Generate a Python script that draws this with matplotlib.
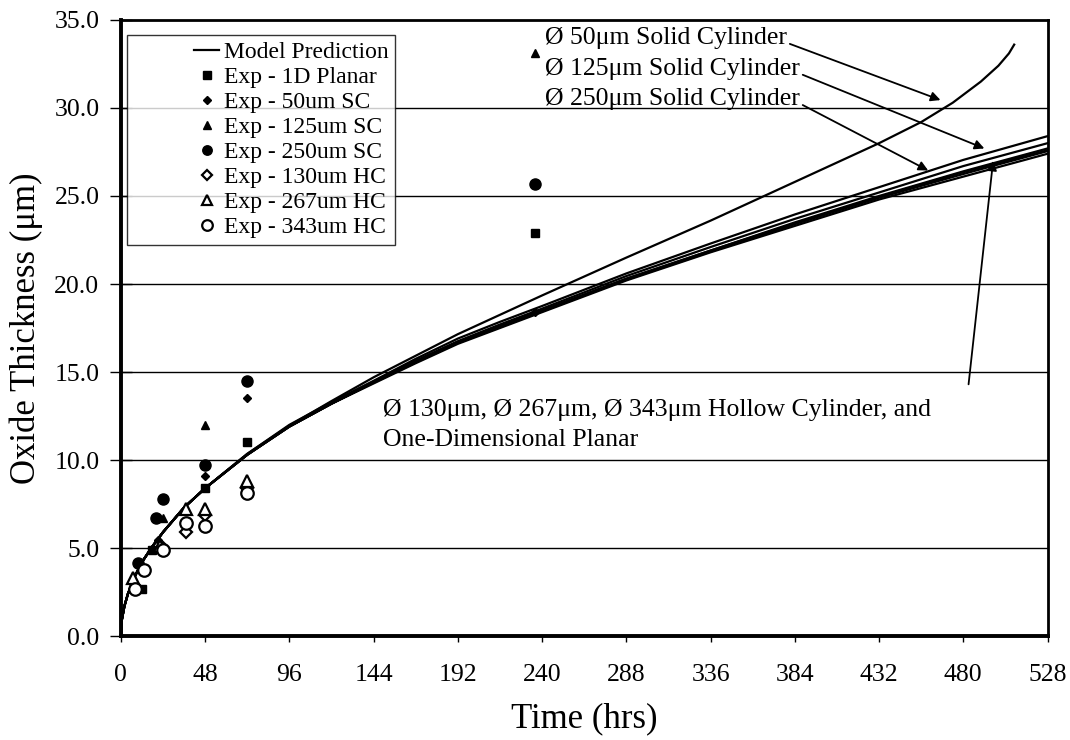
import matplotlib
matplotlib.use("Agg")
import matplotlib.pyplot as plt
from matplotlib.legend_handler import HandlerLine2D

plt.rcParams['font.family'] = ['Liberation Serif', 'DejaVu Serif']

# model time grid (hrs) and predicted oxide thickness (um)
t_model = [0, 0.5, 2, 4, 8, 12, 18, 24, 36, 48, 72, 96, 120, 144, 168, 192,
           216, 240, 288, 336, 384, 432, 480, 528]
planar_1d = [0, 0.9, 1.7, 2.4, 3.4, 4.2, 5.1, 5.9, 7.3, 8.4, 10.3, 11.9, 13.2,
             14.4, 15.6, 16.7, 17.6, 18.5, 20.3, 21.9, 23.5, 25.0, 26.4, 27.7]
hc_130 = [0, 0.9, 1.7, 2.4, 3.4, 4.2, 5.1, 5.9, 7.3, 8.4, 10.3, 11.9, 13.2,
          14.35, 15.5, 16.6, 17.5, 18.4, 20.2, 21.8, 23.3, 24.8, 26.1, 27.4]
hc_267 = [0, 0.9, 1.7, 2.4, 3.4, 4.2, 5.1, 5.9, 7.3, 8.4, 10.3, 11.9, 13.2,
          14.4, 15.55, 16.65, 17.55, 18.45, 20.25, 21.85, 23.4, 24.9, 26.25, 27.55]
hc_343 = [0, 0.9, 1.7, 2.4, 3.4, 4.2, 5.1, 5.9, 7.3, 8.4, 10.3, 11.9, 13.2,
          14.4, 15.6, 16.7, 17.6, 18.5, 20.3, 21.9, 23.45, 24.95, 26.35, 27.6]
sc_250 = [0, 0.9, 1.7, 2.4, 3.4, 4.2, 5.1, 5.9, 7.3, 8.4, 10.3, 11.95, 13.25,
          14.45, 15.65, 16.75, 17.7, 18.6, 20.45, 22.1, 23.7, 25.2, 26.7, 28.0]
sc_125 = [0, 0.9, 1.7, 2.4, 3.4, 4.2, 5.1, 5.9, 7.3, 8.4, 10.35, 12.0, 13.3,
          14.5, 15.75, 16.9, 17.85, 18.75, 20.6, 22.3, 23.95, 25.5, 27.05, 28.4]
t_sc50 = [0, 0.5, 2, 4, 8, 12, 18, 24, 36, 48, 72, 96, 120, 144, 192, 240,
          288, 336, 384, 432, 456, 474, 490, 500, 506, 509]
sc_50 = [0, 0.9, 1.7, 2.4, 3.4, 4.2, 5.1, 5.9, 7.3, 8.4, 10.35, 11.95, 13.35,
         14.7, 17.15, 19.35, 21.5, 23.6, 25.8, 28.0, 29.2, 30.3, 31.5, 32.4,
         33.1, 33.6]

# experimental measurements
t_exp_1d = [12, 18, 48, 72, 236]
exp_1d = [2.7, 4.9, 8.4, 11.0, 22.9]
t_exp_50 = [21, 48, 72, 236]
exp_50 = [5.45, 9.1, 13.55, 18.4]
t_exp_125 = [24, 48, 236]
exp_125 = [6.7, 12.0, 33.1]
t_exp_250 = [10, 20, 24, 48, 72, 236]
exp_250 = [4.15, 6.7, 7.8, 9.7, 14.5, 25.7]
t_exp_130hc = [24, 37, 48, 72]
exp_130hc = [5.0, 5.9, 6.9, 8.4]
t_exp_267hc = [7, 22, 37, 48, 72]
exp_267hc = [3.3, 5.1, 7.2, 7.2, 8.8]
t_exp_343hc = [8, 13, 24, 37, 48, 72]
exp_343hc = [2.7, 3.75, 4.9, 6.4, 6.25, 8.15]

legend_labels = ['Model Prediction', 'Exp - 1D Planar', 'Exp - 50um SC',
                 'Exp - 125um SC', 'Exp - 250um SC', 'Exp - 130um HC',
                 'Exp - 267um HC', 'Exp - 343um HC']
x_ticks = list(range(0, 529, 48))
y_ticks = [0, 5, 10, 15, 20, 25, 30, 35]

fig = plt.figure(figsize=(10.7, 7.4), dpi=100)
ax = fig.add_axes([0.113, 0.1405, 0.866, 0.8325])

for y in y_ticks[1:-1]:
    ax.axhline(y, color='black', lw=1.0, zorder=1)

lw = 1.6
model_line, = ax.plot(t_model, planar_1d, color='black', lw=lw, zorder=3)
for vals in (hc_130, hc_267, hc_343, sc_250, sc_125):
    ax.plot(t_model, vals, color='black', lw=lw, zorder=3)
ax.plot(t_sc50, sc_50, color='black', lw=lw, zorder=3)

h1, = ax.plot(t_exp_1d, exp_1d, 's', color='black', ms=6, ls='none', zorder=4)
h2, = ax.plot(t_exp_50, exp_50, 'D', color='black', ms=4.5, ls='none', zorder=4)
h3, = ax.plot(t_exp_125, exp_125, '^', color='black', ms=6, ls='none', zorder=4)
h4, = ax.plot(t_exp_250, exp_250, 'o', color='black', ms=8, ls='none', zorder=4)
h5, = ax.plot(t_exp_130hc, exp_130hc, 'D', mfc='white', mec='black', mew=1.6,
              ms=6.5, ls='none', zorder=4)
h6, = ax.plot(t_exp_267hc, exp_267hc, '^', mfc='white', mec='black', mew=1.6,
              ms=9, ls='none', zorder=4)
h7, = ax.plot(t_exp_343hc, exp_343hc, 'o', mfc='white', mec='black', mew=1.6,
              ms=9, ls='none', zorder=4)

ax.set_xlim(0, 528)
ax.set_ylim(0, 35)
ax.set_xticks(x_ticks)
ax.set_yticks(y_ticks)
ax.set_yticklabels([f"{v:.1f}" for v in y_ticks])
ax.tick_params(axis='x', direction='out', length=4, width=1, labelsize=18.5, pad=16)
ax.tick_params(axis='y', direction='inout', length=16, width=1, labelsize=18.5, pad=7.5)
for side in ('left', 'bottom'):
    ax.spines[side].set_linewidth(2.8)
for side in ('top', 'right'):
    ax.spines[side].set_linewidth(2.0)

ax.set_xlabel('Time (hrs)', fontsize=25, labelpad=12)
ax.set_ylabel('Oxide Thickness (\u03bcm)', fontsize=25, labelpad=8)

# handles sit at the right end of a wide handle box, leaving blank space on the left
handles = [model_line, h1, h2, h3, h4, h5, h6, h7]
right_handler = HandlerLine2D(xpad=2.55)
leg = ax.legend(handles, legend_labels,
                handler_map={h: right_handler for h in handles},
                loc='upper left', bbox_to_anchor=(0.0065, 0.976), fontsize=17,
                frameon=True, fancybox=False, edgecolor='black',
                labelspacing=0.145, handlelength=3.6, handletextpad=0.2,
                borderpad=0.3, borderaxespad=0, markerscale=0.85)
leg.get_frame().set_linewidth(1.0)

arrow = dict(arrowstyle='-|>', color='black', lw=1.3, mutation_scale=14,
             shrinkA=0, shrinkB=0, relpos=(1.0, 0.3))
ax.annotate('\u00d8 50\u03bcm Solid Cylinder', xy=(467, 30.45),
            xytext=(241.7, 33.95), fontsize=18.5, ha='left', va='center',
            arrowprops=arrow)
ax.annotate('\u00d8 125\u03bcm Solid Cylinder', xy=(492, 27.7),
            xytext=(241.7, 32.2), fontsize=18.5, ha='left', va='center',
            arrowprops=arrow)
ax.annotate('\u00d8 250\u03bcm Solid Cylinder', xy=(460, 26.45),
            xytext=(241.7, 30.5), fontsize=18.5, ha='left', va='center',
            arrowprops=arrow)
ax.text(149.4, 12.0,
        '\u00d8 130\u03bcm, \u00d8 267\u03bcm, \u00d8 343\u03bcm Hollow Cylinder, and\n'
        'One-Dimensional Planar', fontsize=18.5, ha='left', va='center',
        linespacing=1.45)
ax.annotate('', xy=(497, 27.0), xytext=(483, 14.3),
            arrowprops=dict(arrowstyle='-|>', color='black', lw=1.3,
                            mutation_scale=14, shrinkA=0, shrinkB=0))

fig.savefig('out.png', dpi=100)
